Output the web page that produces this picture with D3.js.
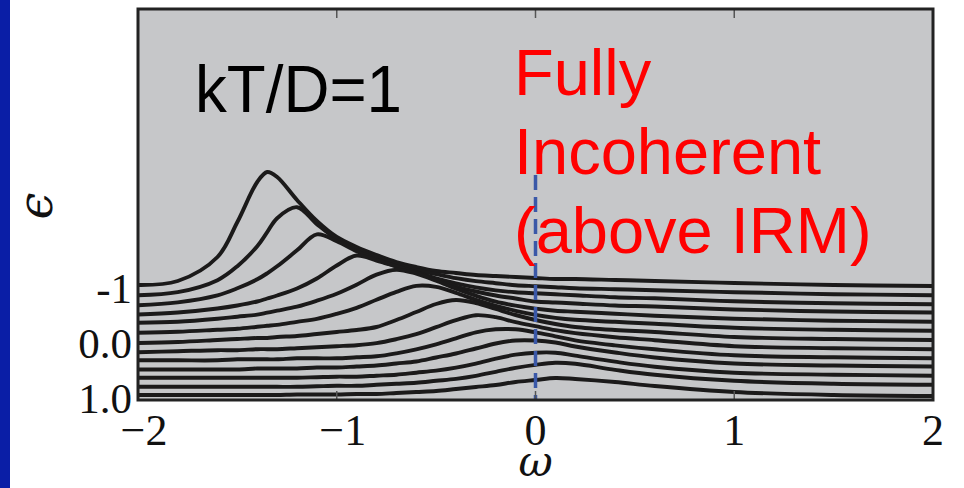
<!DOCTYPE html>
<html>
<head>
<meta charset="utf-8">
<script src="https://cdn.jsdelivr.net/npm/d3@7"></script>
<style>
  html, body { margin: 0; padding: 0; background: #fff; }
  svg { display: block; }
</style>
</head>
<body>
<div id="chart"></div>
<script>
// frequency grid (omega) shared by every curve
const omega = [-2, -1.8, -1.6, -1.5, -1.4, -1.35, -1.3, -1.2, -1.1, -1.0, -0.9, -0.8, -0.7,
  -0.6, -0.5, -0.4, -0.3, -0.2, -0.1, 0, 0.1, 0.2, 0.4, 0.6, 1.0, 1.5, 2.0];

// offset (epsilon) of each curve, top to bottom
const eps = [-1, -0.833, -0.667, -0.5, -0.333, -0.167, 0, 0.167, 0.333, 0.5, 0.667, 0.833, 1];

// spectral weight A(omega) for each epsilon
const spec1  = [0.04, 0.08, 0.32, 0.67, 1.07, 1.17, 1.12, 0.89, 0.68, 0.52, 0.42, 0.34, 0.27, 0.22, 0.18, 0.16, 0.14, 0.13, 0.12, 0.11, 0.10, 0.10, 0.09, 0.08, 0.06, 0.04, 0.03];
const spec2  = [0.03, 0.06, 0.18, 0.32, 0.52, 0.66, 0.80, 0.91, 0.74, 0.59, 0.49, 0.41, 0.34, 0.28, 0.24, 0.20, 0.17, 0.15, 0.13, 0.12, 0.11, 0.10, 0.09, 0.08, 0.06, 0.04, 0.03];
const spec3  = [0.02, 0.05, 0.12, 0.19, 0.28, 0.34, 0.41, 0.57, 0.73, 0.66, 0.56, 0.48, 0.41, 0.35, 0.29, 0.24, 0.20, 0.17, 0.15, 0.14, 0.13, 0.12, 0.10, 0.09, 0.06, 0.04, 0.03];
const spec4  = [0.02, 0.04, 0.08, 0.11, 0.15, 0.18, 0.21, 0.28, 0.38, 0.51, 0.61, 0.56, 0.50, 0.44, 0.37, 0.30, 0.25, 0.21, 0.18, 0.15, 0.14, 0.13, 0.11, 0.10, 0.07, 0.05, 0.04];
const spec5  = [0.03, 0.04, 0.07, 0.09, 0.11, 0.13, 0.15, 0.19, 0.25, 0.32, 0.41, 0.51, 0.56, 0.52, 0.45, 0.37, 0.30, 0.24, 0.20, 0.17, 0.15, 0.14, 0.12, 0.10, 0.07, 0.05, 0.04];
const spec6  = [0.02, 0.03, 0.05, 0.06, 0.08, 0.09, 0.10, 0.13, 0.16, 0.21, 0.27, 0.35, 0.43, 0.49, 0.48, 0.42, 0.35, 0.29, 0.24, 0.20, 0.17, 0.15, 0.13, 0.11, 0.07, 0.05, 0.04];
const spec7  = [0.01, 0.02, 0.04, 0.05, 0.06, 0.06, 0.07, 0.08, 0.10, 0.12, 0.14, 0.17, 0.24, 0.32, 0.40, 0.44, 0.41, 0.35, 0.29, 0.24, 0.20, 0.17, 0.14, 0.12, 0.07, 0.05, 0.04];
const spec8  = [0.01, 0.02, 0.03, 0.03, 0.04, 0.04, 0.04, 0.05, 0.06, 0.07, 0.08, 0.10, 0.14, 0.19, 0.26, 0.33, 0.38, 0.36, 0.31, 0.27, 0.23, 0.20, 0.16, 0.13, 0.07, 0.05, 0.04];
const spec9  = [0.02, 0.02, 0.02, 0.03, 0.03, 0.03, 0.03, 0.04, 0.04, 0.04, 0.05, 0.06, 0.09, 0.13, 0.18, 0.24, 0.30, 0.33, 0.33, 0.30, 0.26, 0.22, 0.17, 0.13, 0.07, 0.05, 0.04];
const spec10 = [0.02, 0.02, 0.02, 0.02, 0.03, 0.03, 0.03, 0.03, 0.04, 0.04, 0.05, 0.06, 0.08, 0.10, 0.14, 0.18, 0.23, 0.28, 0.31, 0.31, 0.29, 0.25, 0.19, 0.14, 0.08, 0.06, 0.05];
const spec11 = [0.03, 0.03, 0.03, 0.03, 0.03, 0.03, 0.03, 0.03, 0.035, 0.04, 0.04, 0.05, 0.06, 0.08, 0.10, 0.13, 0.17, 0.22, 0.26, 0.28, 0.28, 0.25, 0.19, 0.14, 0.08, 0.06, 0.05];
const spec12 = [0.03, 0.03, 0.03, 0.03, 0.03, 0.03, 0.03, 0.03, 0.035, 0.04, 0.04, 0.05, 0.06, 0.07, 0.09, 0.11, 0.14, 0.18, 0.22, 0.25, 0.27, 0.26, 0.20, 0.15, 0.09, 0.06, 0.05];
const spec13 = [0.04, 0.04, 0.04, 0.04, 0.04, 0.04, 0.04, 0.045, 0.045, 0.045, 0.05, 0.05, 0.06, 0.07, 0.08, 0.10, 0.12, 0.14, 0.17, 0.19, 0.21, 0.20, 0.17, 0.13, 0.07, 0.04, 0.03];
const spectra = [spec1, spec2, spec3, spec4, spec5, spec6, spec7, spec8, spec9, spec10, spec11, spec12, spec13];

const xTicks = [-2, -1, 0, 1, 2];
const xTickLabels = ["\u22122", "\u22121", "0", "1", "2"];
const yTicks = [-1, 0, 1];
const yTickLabels = ["-1", "0.0", "1.0"];

const W = 964, H = 488;
const plot = { left: 138, right: 933, top: 9, bottom: 400 };

const svg = d3.select("#chart").append("svg")
  .attr("width", W)
  .attr("height", H);

// blue slide strip on the left
svg.append("rect")
  .attr("x", 0).attr("y", 0)
  .attr("width", 10).attr("height", H)
  .attr("fill", "#0a1ea6");

const x = d3.scaleLinear().domain([-2, 2]).range([plot.left, plot.right]);
const y = d3.scaleLinear().domain([-1, 1]).range([289, 399]);
const amp = d3.scaleLinear().domain([0, 1]).range([0, 100]);

svg.append("rect")
  .attr("x", plot.left).attr("y", plot.top)
  .attr("width", plot.right - plot.left)
  .attr("height", plot.bottom - plot.top)
  .attr("fill", "#c6c7c9");

svg.append("clipPath").attr("id", "clip")
  .append("rect")
  .attr("x", plot.left).attr("y", plot.top)
  .attr("width", plot.right - plot.left)
  .attr("height", plot.bottom - plot.top);

const line = d3.line()
  .x(d => x(d[0]))
  .y(d => d[1])
  .curve(d3.curveCatmullRom.alpha(0.5));

svg.append("g")
  .attr("clip-path", "url(#clip)")
  .selectAll("path")
  .data(spectra)
  .join("path")
  .attr("d", (s, i) => line(omega.map((w, j) => [w, y(eps[i]) - amp(s[j])])))
  .attr("fill", "none")
  .attr("stroke", "#1b1a1a")
  .attr("stroke-width", 3.9)
  .attr("stroke-linejoin", "round");

// dashed marker at omega = 0
svg.append("line")
  .attr("x1", x(0)).attr("x2", x(0))
  .attr("y1", 175).attr("y2", plot.bottom)
  .attr("stroke", "#3a58a8")
  .attr("stroke-width", 3.5)
  .attr("stroke-dasharray", "15,7");

// inner ticks, top and bottom
const tickG = svg.append("g").attr("stroke", "#555").attr("stroke-width", 1.5);
xTicks.slice(1, -1).forEach(t => {
  tickG.append("line").attr("x1", x(t)).attr("x2", x(t)).attr("y1", plot.top).attr("y2", plot.top + 9);
  tickG.append("line").attr("x1", x(t)).attr("x2", x(t)).attr("y1", plot.bottom).attr("y2", plot.bottom - 9);
});

svg.append("rect")
  .attr("x", plot.left).attr("y", plot.top)
  .attr("width", plot.right - plot.left)
  .attr("height", plot.bottom - plot.top)
  .attr("fill", "none")
  .attr("stroke", "#222")
  .attr("stroke-width", 3);

// tick labels
svg.append("g").selectAll("text")
  .data(xTicks)
  .join("text")
  .attr("x", d => x(d) + (d < 0 ? 6 : 0))
  .attr("y", 445)
  .attr("text-anchor", "middle")
  .style("font-family", "'Liberation Serif', 'DejaVu Serif', serif")
  .style("font-size", "44px")
  .attr("fill", "#111")
  .text((d, i) => xTickLabels[i]);

svg.append("g").selectAll("text")
  .data(yTicks)
  .join("text")
  .attr("x", 132)
  .attr("y", d => y(d))
  .attr("dy", "0.33em")
  .attr("text-anchor", "end")
  .style("font-family", "'Liberation Serif', 'DejaVu Serif', serif")
  .style("font-size", "43px")
  .attr("fill", "#111")
  .text((d, i) => yTickLabels[i]);

// axis titles
svg.append("text")
  .attr("x", x(0))
  .attr("y", 476)
  .attr("text-anchor", "middle")
  .style("font-family", "'DejaVu Serif', serif")
  .style("font-style", "italic")
  .style("font-size", "42px")
  .attr("fill", "#111")
  .text("\u03c9");

svg.append("text")
  .attr("transform", "translate(52,206) rotate(-90)")
  .attr("text-anchor", "middle")
  .style("font-family", "'DejaVu Serif', serif")
  .style("font-style", "italic")
  .style("font-size", "48px")
  .attr("fill", "#111")
  .text("\u03f5");

// annotations
svg.append("text")
  .attr("x", 195).attr("y", 112)
  .attr("textLength", 207)
  .attr("lengthAdjust", "spacingAndGlyphs")
  .style("font-family", "'Liberation Sans', Arial, sans-serif")
  .style("font-size", "66px")
  .attr("fill", "#000")
  .text("kT/D=1");

const note = ["Fully", "Incoherent", "(above IRM)"];
svg.append("g").selectAll("text")
  .data(note)
  .join("text")
  .attr("x", 514)
  .attr("y", (d, i) => 95 + i * 79)
  .style("font-family", "'Liberation Sans', Arial, sans-serif")
  .style("font-size", "65px")
  .attr("fill", "#ff0000")
  .text(d => d);
</script>
</body>
</html>
